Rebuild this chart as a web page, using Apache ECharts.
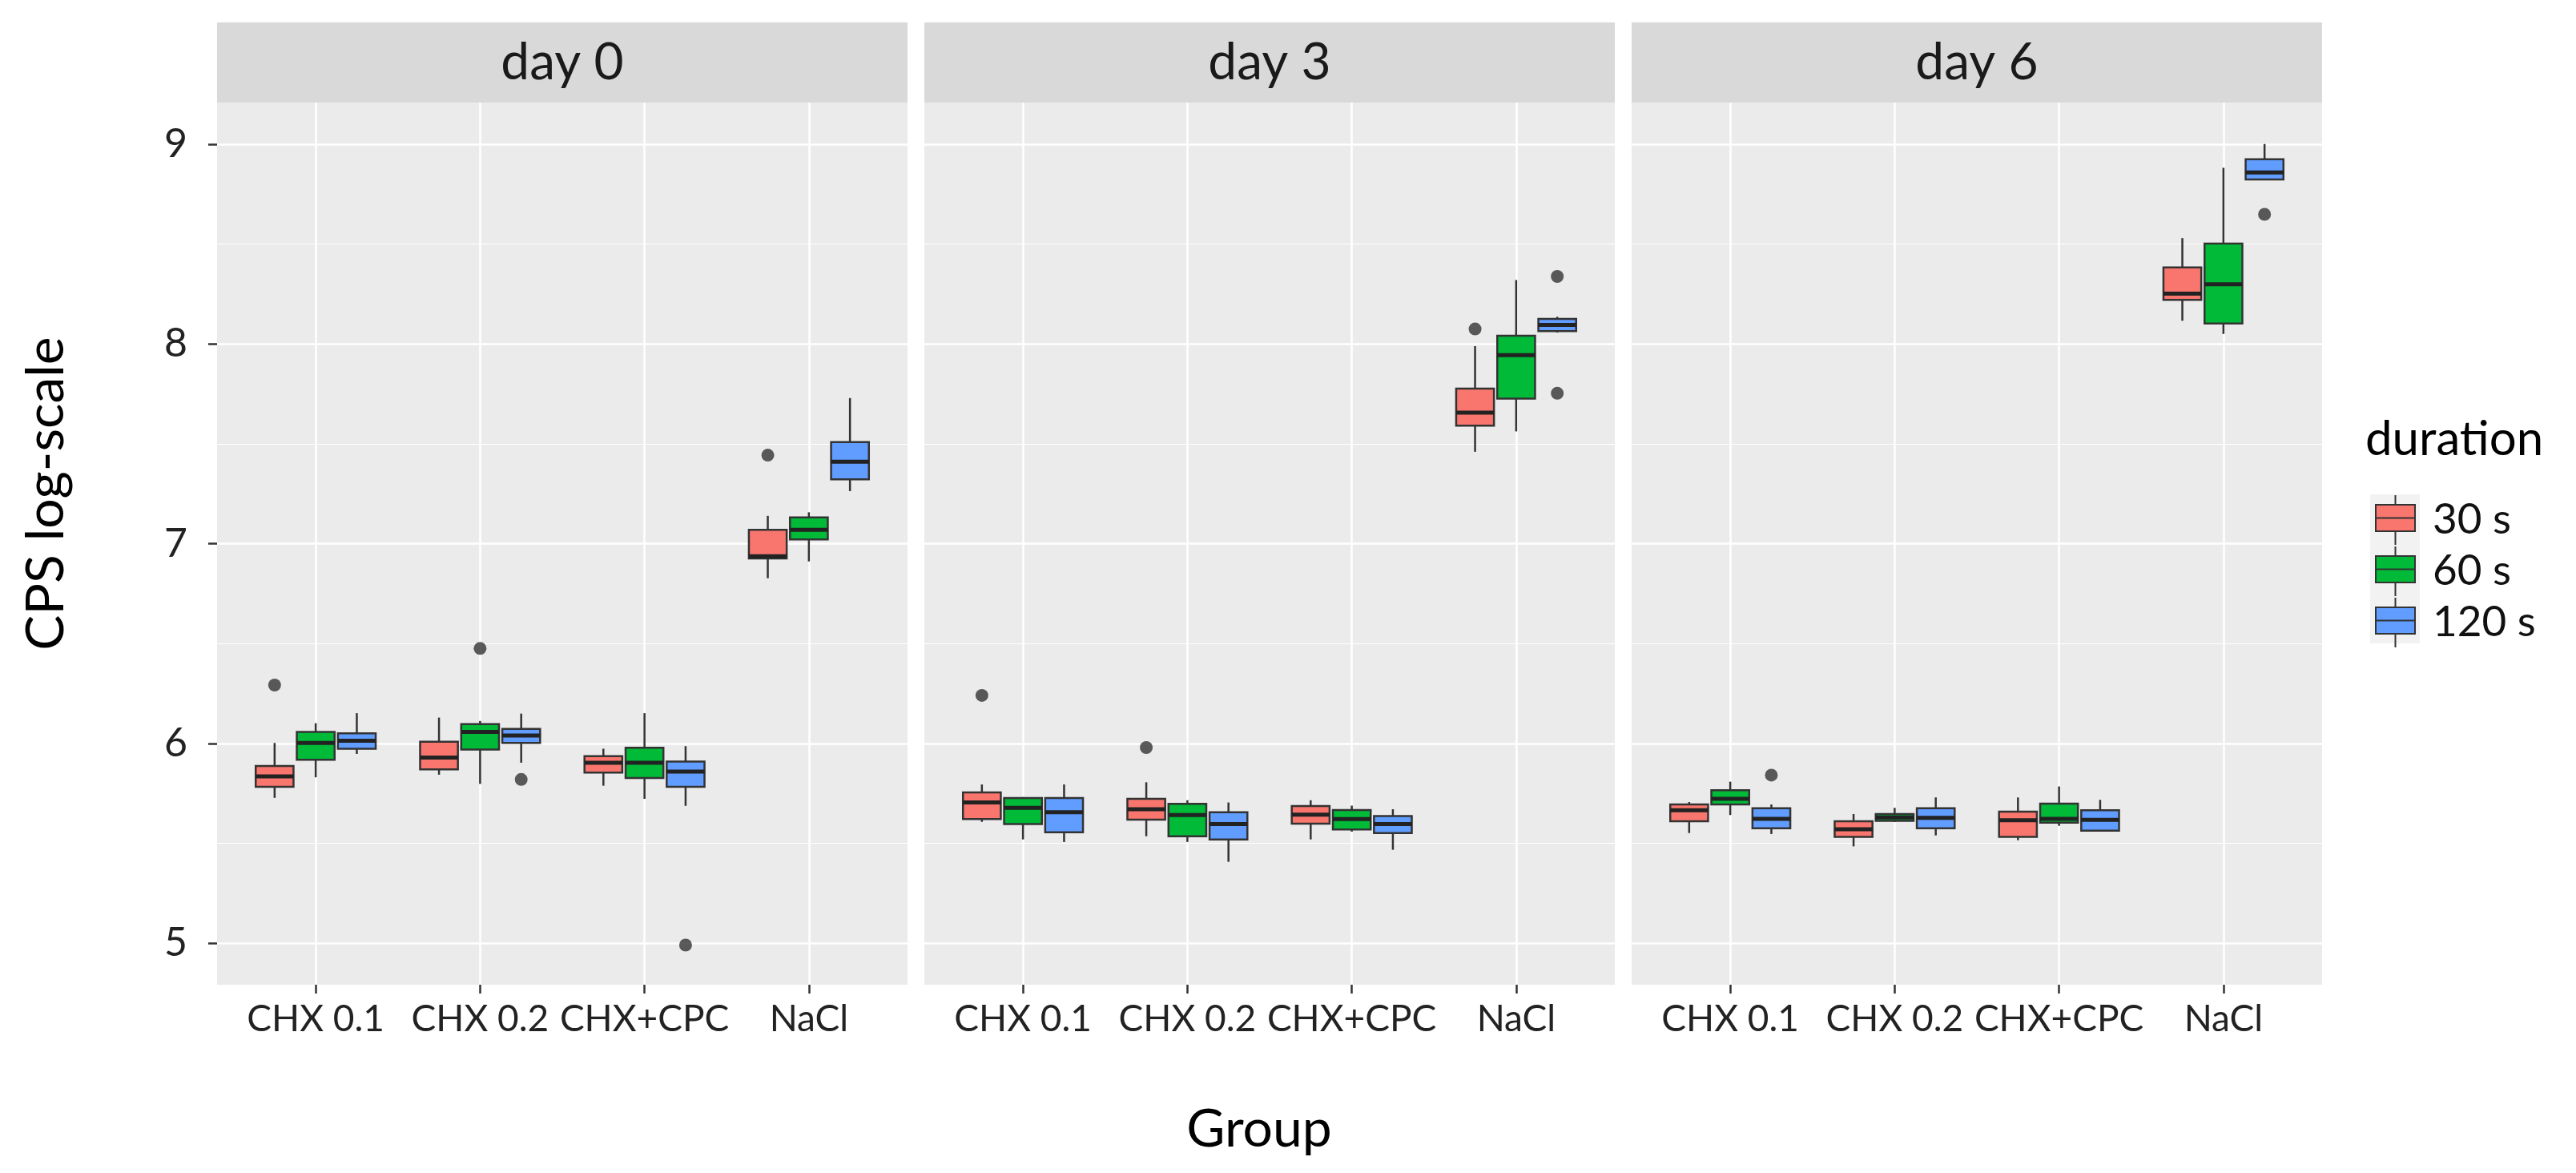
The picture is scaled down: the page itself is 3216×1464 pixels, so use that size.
<!DOCTYPE html>
<html><head><meta charset="utf-8">
<script src="https://cdn.jsdelivr.net/npm/echarts@6/dist/echarts.min.js"></script>
<style>html,body{margin:0;padding:0;background:#fff}#c{width:3216px;height:1464px}</style>
</head><body><div id="c"></div>
<script>
// ---------- data ----------
const groups = ['CHX 0.1', 'CHX 0.2', 'CHX+CPC', 'NaCl'];
const days = ['day 0', 'day 3', 'day 6'];
const durations = ['30 s', '60 s', '120 s'];
const yTicks = [5, 6, 7, 8, 9];
const yMinor = [5.5, 6.5, 7.5, 8.5];
const xTicks = [1, 2, 3, 4];

// box stats per group: [min, Q1, median, Q3, max]
const day0_30s  = [[5.727,5.782,5.835,5.887,6.002],[5.843,5.870,5.929,6.008,6.129],[5.788,5.854,5.903,5.936,5.973],[6.827,6.926,6.937,7.069,7.139]];
const day0_60s  = [[5.830,5.918,6.002,6.057,6.101],[5.797,5.969,6.057,6.096,6.112],[5.722,5.826,5.903,5.978,6.151],[6.911,7.021,7.069,7.131,7.157]];
const day0_120s = [[5.947,5.973,6.013,6.050,6.151],[5.903,6.002,6.039,6.072,6.149],[5.687,5.782,5.859,5.909,5.986],[7.263,7.322,7.410,7.509,7.729]];
const day3_30s  = [[5.607,5.621,5.704,5.754,5.794],[5.535,5.618,5.670,5.722,5.805],[5.519,5.598,5.643,5.686,5.715],[7.460,7.591,7.656,7.776,7.989]];
const day3_60s  = [[5.519,5.596,5.677,5.726,5.731],[5.506,5.535,5.641,5.697,5.715],[5.558,5.569,5.621,5.666,5.688],[7.562,7.726,7.944,8.041,8.320]];
const day3_120s = [[5.506,5.555,5.655,5.726,5.794],[5.407,5.519,5.596,5.655,5.704],[5.467,5.551,5.596,5.636,5.670],[8.057,8.064,8.095,8.125,8.136]];
const day6_30s  = [[5.551,5.610,5.665,5.694,5.706],[5.484,5.532,5.570,5.610,5.646],[5.515,5.532,5.615,5.658,5.729],[8.116,8.221,8.252,8.383,8.530]];
const day6_60s  = [[5.641,5.694,5.722,5.765,5.808],[5.606,5.612,5.629,5.646,5.677],[5.587,5.603,5.622,5.698,5.784],[8.050,8.102,8.299,8.502,8.882]];
const day6_120s = [[5.546,5.575,5.622,5.675,5.694],[5.539,5.575,5.627,5.675,5.729],[5.558,5.563,5.617,5.665,5.717],[8.823,8.823,8.859,8.925,9.001]];

// outliers: [group index, duration index, value]
const day0_out = [[0,0,6.292],[1,1,6.475],[1,2,5.819],[2,2,4.990],[3,0,7.443]];
const day3_out = [[0,0,6.240],[1,0,5.979],[3,0,8.075],[3,2,8.338],[3,2,7.753]];
const day6_out = [[0,2,5.841],[3,2,8.649]];

// ---------- styling / layout ----------
const boxStats = [[day0_30s, day0_60s, day0_120s],[day3_30s, day3_60s, day3_120s],[day6_30s, day6_60s, day6_120s]];
const outliers = [day0_out, day3_out, day6_out];
const colors = ['#F8766D', '#00BA38', '#619CFF'];
const DODGE = [-0.25, 0, 0.25];
const BOX_W = 0.23;
const Y_MIN = 4.7914, Y_MAX = 9.2086;
const PANEL_LEFT = [271, 1154, 2037], PANEL_W = 862, PANEL_TOP = 128, PANEL_H = 1101;
const STRIP_TOP = 28, STRIP_H = 100;
const FONT = 'Lato';
const INK = '#333333';
const KEY_ICON = 'path://M0,12L49,12L49,45L0,45Z M0,28.5L49,28.5Z M24.5,0L24.5,12Z M24.5,45L24.5,62Z';

function renderBox(params, api) {
  const x = api.value(0);
  const lo = api.coord([x, api.value(1)]);
  const q1 = api.coord([x, api.value(2)]);
  const md = api.coord([x, api.value(3)]);
  const q3 = api.coord([x, api.value(4)]);
  const hi = api.coord([x, api.value(5)]);
  const hw = api.size([BOX_W, 0])[0] / 2;
  const fill = api.visual('color');
  const ln = { stroke: INK, lineWidth: 2.5 };
  return {
    type: 'group',
    children: [
      { type: 'line', shape: { x1: lo[0], y1: lo[1], x2: q1[0], y2: q1[1] }, style: ln },
      { type: 'line', shape: { x1: q3[0], y1: q3[1], x2: hi[0], y2: hi[1] }, style: ln },
      { type: 'rect', shape: { x: q3[0] - hw, y: q3[1], width: hw * 2, height: q1[1] - q3[1] },
        style: { fill: fill, stroke: INK, lineWidth: 2.5 } },
      { type: 'line', shape: { x1: md[0] - hw, y1: md[1], x2: md[0] + hw, y2: md[1] },
        style: { stroke: '#222', lineWidth: 5 } }
    ]
  };
}

const grid = [], xAxis = [], yAxis = [], series = [], graphic = [];
days.forEach((day, i) => {
  grid.push({ left: PANEL_LEFT[i], top: PANEL_TOP, width: PANEL_W, height: PANEL_H,
    show: true, backgroundColor: '#EBEBEB', borderWidth: 0 });
  xAxis.push({
    gridIndex: i, type: 'value', min: 0.4, max: 4.6,
    axisLine: { show: false },
    axisTick: { show: true, customValues: xTicks, length: 11, lineStyle: { color: INK, width: 2.5 } },
    axisLabel: { customValues: xTicks, formatter: v => groups[Math.round(v) - 1], margin: 20,
      fontSize: 46, fontFamily: FONT, color: '#222' },
    splitLine: { show: true, lineStyle: { color: '#ffffff', width: 2.5 } }
  });
  yAxis.push({
    gridIndex: i, type: 'value', min: Y_MIN, max: Y_MAX,
    axisLine: { show: false },
    axisTick: { show: i === 0, customValues: yTicks, length: 11, lineStyle: { color: INK, width: 2.5 } },
    axisLabel: { show: i === 0, customValues: yTicks, margin: 37, fontSize: 50, fontFamily: FONT, color: '#222' },
    splitLine: { show: true, lineStyle: { color: '#ffffff', width: 2.5 } }
  });
  yAxis.push({
    gridIndex: i, type: 'value', min: Y_MIN, max: Y_MAX, position: 'right',
    axisLine: { show: false },
    axisTick: { show: false, customValues: yMinor },
    axisLabel: { show: false },
    splitLine: { show: true, lineStyle: { color: '#ffffff', width: 1.2 } }
  });
  durations.forEach((dur, d) => {
    series.push({
      type: 'custom', name: dur, xAxisIndex: i, yAxisIndex: 2 * i,
      itemStyle: { color: colors[d], borderColor: INK, borderWidth: 2 },
      renderItem: renderBox,
      encode: { x: 0, y: [1, 2, 3, 4, 5] },
      data: boxStats[i][d].map((s, g) => [g + 1 + DODGE[d]].concat(s))
    });
  });
  series.push({
    type: 'scatter', xAxisIndex: i, yAxisIndex: 2 * i, symbolSize: 16,
    itemStyle: { color: INK }, silent: true, z: 3,
    data: outliers[i].map(o => [o[0] + 1 + DODGE[o[1]], o[2]])
  });
  // facet strip
  graphic.push({ type: 'rect', left: PANEL_LEFT[i], top: STRIP_TOP,
    shape: { width: PANEL_W, height: STRIP_H }, style: { fill: '#D9D9D9' }, silent: true });
  graphic.push({ type: 'text', x: PANEL_LEFT[i] + PANEL_W / 2, y: STRIP_TOP + STRIP_H / 2,
    style: { text: day, fontSize: 64, fontFamily: FONT, fill: '#1a1a1a', align: 'center', verticalAlign: 'middle' } });
});

// axis titles & legend title
graphic.push({ type: 'text', x: 58, y: 616, rotation: Math.PI / 2,
  style: { text: 'CPS log-scale', fontSize: 66, fontFamily: FONT, fill: '#000', align: 'center', verticalAlign: 'middle' } });
graphic.push({ type: 'text', x: 1572, y: 1410,
  style: { text: 'Group', fontSize: 66, fontFamily: FONT, fill: '#000', align: 'center', verticalAlign: 'middle' } });
graphic.push({ type: 'text', x: 2953, y: 549,
  style: { text: 'duration', fontSize: 60, fontFamily: FONT, fill: '#000', align: 'left', verticalAlign: 'middle' } });
// legend key background
graphic.push({ type: 'rect', left: 2959, top: 617, shape: { width: 62, height: 186 }, style: { fill: '#F2F2F2' }, silent: true, z: -1 });

const option = {
  animation: false,
  backgroundColor: '#ffffff',
  grid, xAxis, yAxis, series, graphic,
  legend: {
    orient: 'vertical', left: 2965, top: 617, itemWidth: 49, itemHeight: 62, itemGap: 0, padding: 0,
    data: durations.map(d => ({ name: d, icon: KEY_ICON })),
    itemStyle: { borderColor: INK, borderWidth: 2 },
    textStyle: { fontSize: 53, fontFamily: FONT, color: '#111', padding: [0, 0, 0, 17] }
  }
};
const chart = echarts.init(document.getElementById('c'));
chart.setOption(option);
</script></body></html>
